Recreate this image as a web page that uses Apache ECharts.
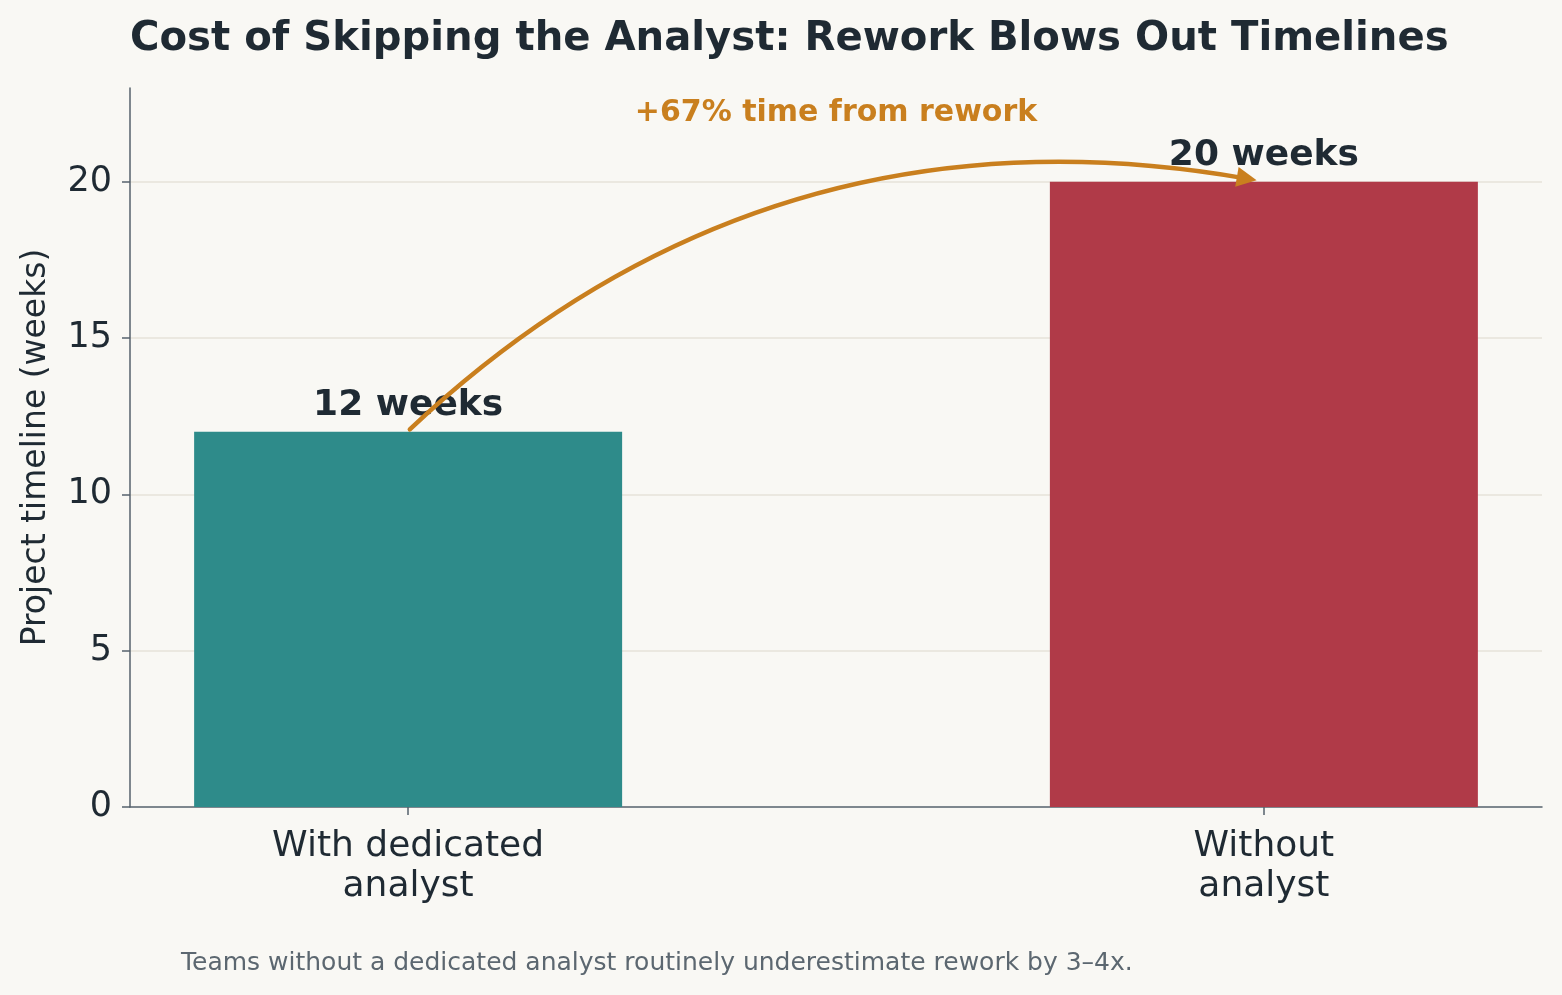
<!DOCTYPE html>
<html>
<head>
<meta charset="utf-8">
<title>Cost of Skipping the Analyst</title>
<script src="https://cdn.jsdelivr.net/npm/echarts@6/dist/echarts.min.js"></script>
<style>
  html, body { margin: 0; padding: 0; background: #f9f8f4; }
  #chart { width: 1562px; height: 995px; }
</style>
</head>
<body>
<div id="chart"></div>
<script>
  // ---- data ----
  const categories = ['With dedicated\nanalyst', 'Without\nanalyst']
  const weeks = [12, 20]
  const yTicks = [0, 5, 10, 15, 20]
  const arrowFrom = [0.002, 12.08]   // top of the first bar
  const arrowTo = [0.98, 20.1]       // top of the second bar
  const noteAt = [0.5, 22.2]
  const noteText = '+67% time from rework'

  const barColors = ['#2e8b8a', '#b03a48']
  const ink = '#1f2a33'
  const orange = '#c97f1e'
  const spine = '#56626c'
  const font = 'DejaVu Sans'

  let chart = echarts.init(document.getElementById('chart'))
  chart.setOption({
    backgroundColor: '#f9f8f4',
    animation: false,
    textStyle: { fontFamily: font },
    title: [
      {
        text: 'Cost of Skipping the Analyst: Rework Blows Out Timelines',
        left: 130,
        top: 20,
        padding: 0,
        textStyle: { fontFamily: font, fontSize: 40.2, fontWeight: 'bold', color: ink }
      },
      {
        text: 'Teams without a dedicated analyst routinely underestimate rework by 3–4x.',
        left: 181,
        top: 951,
        padding: 0,
        textStyle: { fontFamily: font, fontSize: 25, fontWeight: 'normal', color: '#5c6770' }
      }
    ],
    grid: { left: 130, right: 20, top: 88, bottom: 188 },
    xAxis: {
      type: 'value',
      min: -0.325,
      max: 1.325,
      axisLine: { show: true, onZero: false, lineStyle: { color: spine, width: 1.5 } },
      axisTick: { show: true, customValues: [0, 1], length: 8, lineStyle: { color: spine, width: 1.5 } },
      splitLine: { show: false },
      axisLabel: {
        customValues: [0, 1],
        formatter: v => categories[Math.round(v)],
        fontSize: 36,
        lineHeight: 40,
        color: ink,
        margin: 20
      }
    },
    yAxis: {
      type: 'value',
      min: 0,
      max: 23,
      interval: 5,
      name: 'Project timeline (weeks)',
      nameLocation: 'middle',
      nameGap: 77,
      nameTextStyle: { fontSize: 33, color: ink },
      axisLine: { show: true, onZero: false, lineStyle: { color: spine, width: 1.5 } },
      axisTick: { show: true, customValues: yTicks, length: 8, lineStyle: { color: spine, width: 1.5 } },
      axisLabel: {
        customValues: yTicks,
        fontSize: 35,
        color: ink,
        margin: 18
      },
      splitLine: {
        show: true,
        showMinLine: false,
        showMaxLine: true,
        lineStyle: { color: '#e6e3da', width: 1.5 }
      }
    },
    series: [
      {
        type: 'bar',
        barWidth: 428,
        data: weeks.map((w, i) => ({ value: [i, w], itemStyle: { color: barColors[i] } })),
        label: {
          show: true,
          position: 'top',
          distance: 8,
          formatter: p => p.value[1] + ' weeks',
          fontSize: 36,
          fontWeight: 'bold',
          color: ink
        },
        z: 2
      },
      {
        type: 'lines',
        coordinateSystem: 'cartesian2d',
        symbol: ['none', 'triangle'],
        symbolSize: [17, 20],
        lineStyle: { color: orange, width: 4.5, curveness: 0.25, opacity: 1, cap: 'round' },
        data: [{ coords: [arrowFrom, arrowTo] }],
        z: 5
      },
      {
        type: 'scatter',
        symbolSize: 0,
        itemStyle: { opacity: 1 },
        data: [noteAt],
        label: {
          show: true,
          position: 'inside',
          formatter: noteText,
          fontSize: 30,
          fontWeight: 'bold',
          color: orange
        },
        silent: true
      }
    ]
  })
</script>
</body>
</html>
